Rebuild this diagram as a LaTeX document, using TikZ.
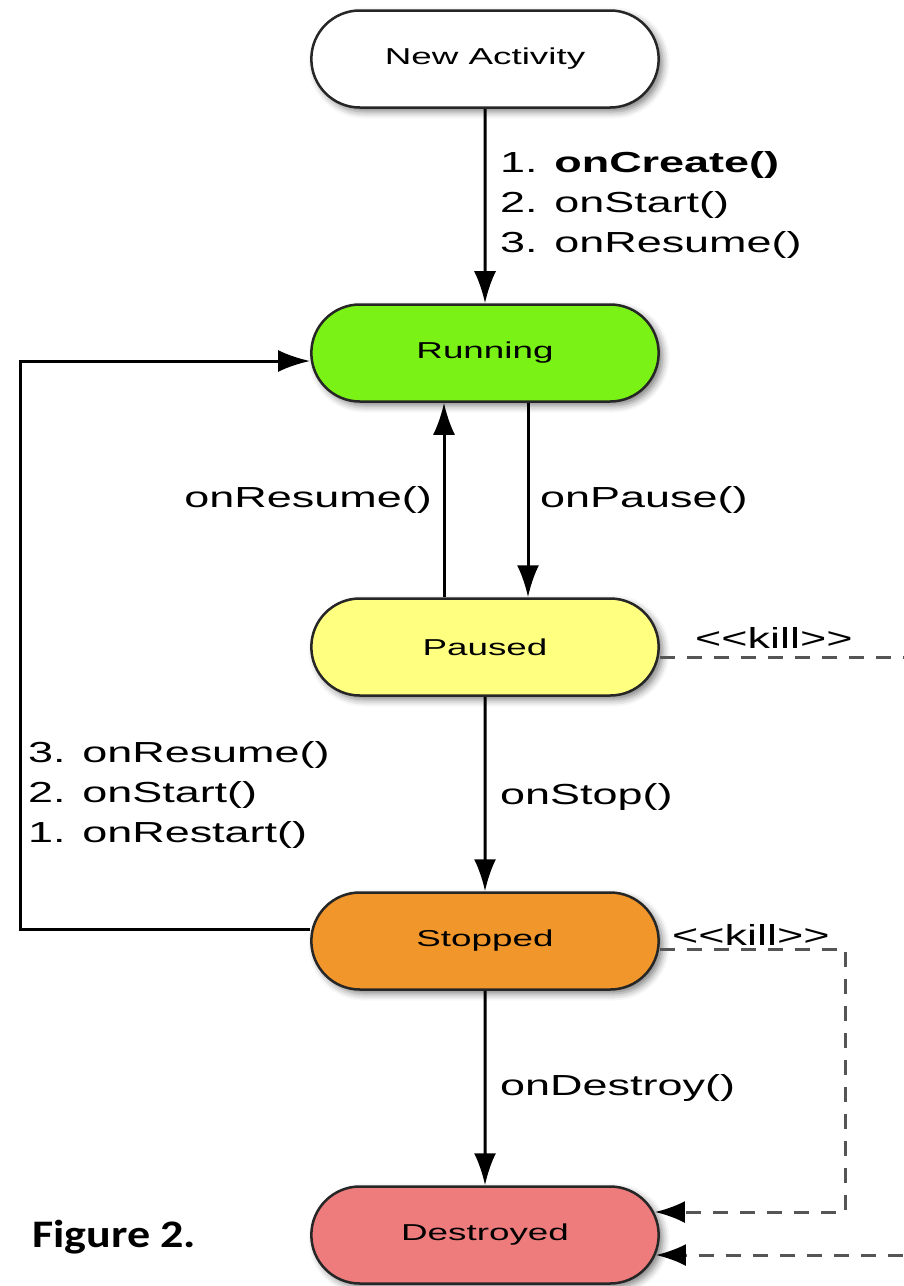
\documentclass[tikz,border=0pt]{standalone}
\usepackage{fontspec}
\setmainfont{Liberation Sans}
\newfontfamily\statefont[FakeStretch=1.6]{Liberation Sans}
\newfontfamily\callfont[FakeStretch=1.55]{Liberation Sans}
\newfontfamily\figfont[FakeStretch=1.18]{Carlito}
\usetikzlibrary{positioning,shapes.misc,arrows.meta,shadows.blur}
\definecolor{runcol}{RGB}{122,242,22}
\definecolor{paucol}{RGB}{255,255,128}
\definecolor{stocol}{RGB}{240,150,42}
\definecolor{descol}{RGB}{238,124,124}
\definecolor{killgray}{RGB}{85,85,85}
\begin{document}
\begin{tikzpicture}[x=1pt, y=-1pt, node distance=194.5pt,
    state/.style = {rounded rectangle, draw=black!85, line width=2.5pt,
      minimum width=354pt, minimum height=97pt,
      font=\statefont\fontsize{23}{28}\selectfont,
      blur shadow={shadow xshift=4pt, shadow yshift=-4pt,
        shadow blur radius=7pt, shadow opacity=50}},
    call/.style = {anchor=west, inner sep=0pt, align=left,
      font=\callfont\fontsize{29}{40}\selectfont},
    flow/.style = {line width=3pt, -{Latex[length=32pt,width=22pt]}},
    killline/.style = {line width=3pt, killgray, dash pattern=on 15pt off 12pt},
    killtip/.style = {-{Latex[length=30pt,width=22pt,black]}}]
    \useasboundingbox (0,0) rectangle (903,1286);
    \node[state, fill=white] (new) at (485,59) {New Activity};
    \node[state, fill=runcol, below=of new] (run) {Running};
    \node[state, fill=paucol, below=of run] (pau) {Paused};
    \node[state, fill=stocol, below=of pau] (sto) {Stopped};
    \node[state, fill=descol, below=of sto] (des) {Destroyed};
    \draw[flow] (new) -- (run);
    \draw[flow] ([xshift=43pt]run.south) -- ([xshift=43pt]pau.north);
    \draw[flow] ([xshift=-41pt]pau.north) -- ([xshift=-41pt]run.south);
    \draw[flow] (pau) -- (sto);
    \draw[flow] (sto) -- (des);
    \draw[flow] ([yshift=12pt]sto.west) -- ++(-290,0) |- ([yshift=-8pt]run.west);
    \coordinate (pauout) at (903,657);
    \coordinate (desin) at (903,1255);
    \draw[killline] ([yshift=-10pt]pau.east) -- (pauout);
    \draw[killline, killtip] ([yshift=-8pt]sto.east) -- ++(186,0) |- ([xshift=-5pt,yshift=23pt]des.east);
    \draw[killline, killtip] (desin) -- ([xshift=-4pt,yshift=-20pt]des.east);
    \node[call] (createcalls) at (500,205) {1. \textbf{onCreate()}\\2. onStart()\\3. onResume()};
    \node[call, anchor=east] (resumecall) at (432,500) {onResume()};
    \node[call] (pausecall) at (540,500) {onPause()};
    \node[call] (stopcall) at (500,797) {onStop()};
    \node[call] (restartcalls) at (28,795) {3. onResume()\\2. onStart()\\1. onRestart()};
    \node[call] (destroycall) at (500,1088) {onDestroy()};
    \node[call] (pausekill) at (695,638) {<{}<kill>{}>};
    \node[call] (stopkill) at (672,935) {<{}<kill>{}>};
    \node[anchor=base west, inner sep=0pt, font=\figfont\bfseries\fontsize{39}{44}\selectfont]
      (figlabel) at (32,1247) {Figure 2.};
\end{tikzpicture}
\end{document}
